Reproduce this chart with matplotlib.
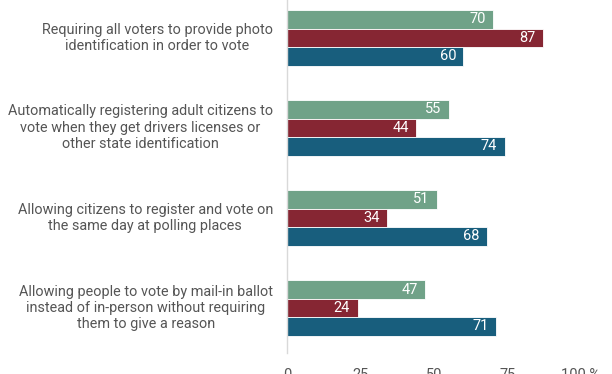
import matplotlib.pyplot as plt
import numpy as np

plt.rcParams['font.family'] = ['Roboto', 'DejaVu Sans']

categories = [
    "Requiring all voters to provide photo\nidentification in order to vote",
    "Automatically registering adult citizens to\nvote when they get drivers licenses or\nother state identification",
    "Allowing citizens to register and vote on\nthe same day at polling places",
    "Allowing people to vote by mail-in ballot\ninstead of in-person without requiring\nthem to give a reason",
]
total = [70, 55, 51, 47]
republicans = [87, 44, 34, 24]
democrats = [60, 74, 68, 71]
xticks = [0, 25, 50, 75, 100]
xticklabels = ["0", "25", "50", "75", "100 %"]

COLORS = ["#70a288", "#862633", "#185e7d"]
series = [total, republicans, democrats]

fig = plt.figure(figsize=(6.12, 3.74), dpi=100)
ax = fig.add_axes([287 / 612, 21 / 374, (581 - 287) / 612, 353 / 374])

y = np.arange(len(categories))
h = 0.205
for k, (vals, col) in enumerate(zip(series, COLORS)):
    pos = y + (k - 1) * h
    ax.barh(pos, vals, height=h, color=col, edgecolor="white", linewidth=0.6)
    for p, v in zip(pos, vals):
        ax.text(v - 2.5, p, str(v), color="white", fontsize=10.5,
                ha="right", va="center")

ax.set_xlim(0, 100)
ax.set_ylim(3.5, -0.42)
ax.set_yticks([])
ax.set_xticks(xticks)
ax.set_xticklabels(xticklabels, fontsize=10.5, color="#555555")
ax.tick_params(axis="x", length=0, pad=11)

for s in ["top", "right", "bottom"]:
    ax.spines[s].set_visible(False)
ax.spines["left"].set_color("#d9d9d9")
ax.spines["left"].set_linewidth(1)

for i, cat in enumerate(categories):
    ax.text(-4.8, i, cat, ha="right", va="center", multialignment="center",
            fontsize=10.4, color="#555555", linespacing=1.22)

fig.savefig("out.png", dpi=100)
